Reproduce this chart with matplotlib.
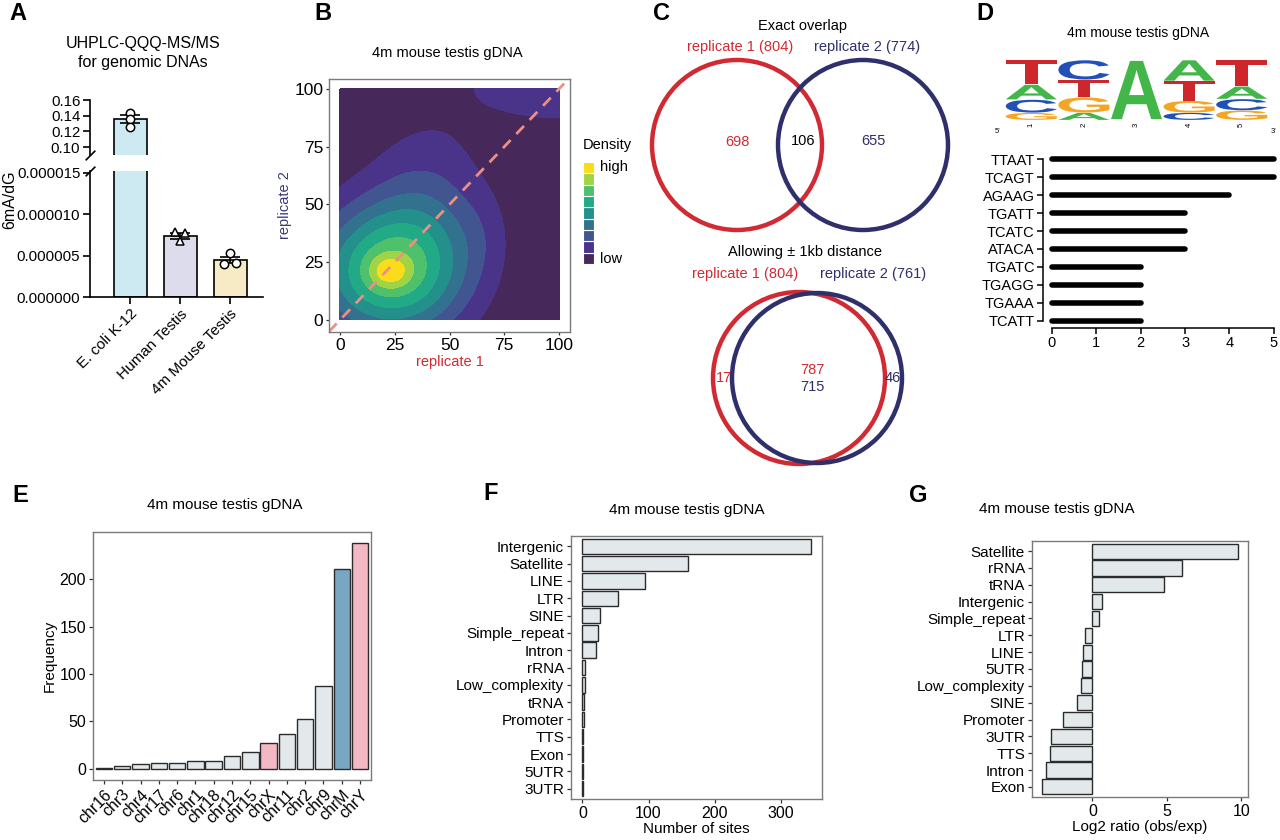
import numpy as np
import matplotlib
matplotlib.use("Agg")
import matplotlib.pyplot as plt
from matplotlib.patches import Circle, PathPatch
from matplotlib.textpath import TextPath
from matplotlib.font_manager import FontProperties
from matplotlib.transforms import Affine2D

plt.rcParams['font.family'] = ['Liberation Sans', 'DejaVu Sans']
plt.rcParams['font.size'] = 10.5

# ---------------- data ----------------
# A: UHPLC-QQQ-MS/MS
a_groups = ["E. coli K-12", "Human Testis", "4m Mouse Testis"]
a_reps = [[0.144, 0.136, 0.126], [7.8e-6, 7.7e-6, 6.7e-6], [5.3e-6, 4.0e-6, 4.1e-6]]
a_jitter = [[0, 0, 0], [-0.1, 0.1, 0.0], [0.0, -0.12, 0.12]]
a_markers = ["o", "^", "o"]
a_colors = ["#cde9f2", "#dddcec", "#f6ebc4"]

# B: density anchors (rough KDE of replicate 1 vs replicate 2)
kde_cx = [22.6, 22.6, 40, 66]
kde_cy = [21, 21, 52, 38]
kde_sx = [24, 6, 20, 9]
kde_sy = [20, 4.5, 26, 14]
kde_w = [1.0, 0.3, 0.26, 0.07]
corner_blob = (100, 104, 30, 14, 0.22)
dens_colors = ["#46295a", "#4a3489", "#415590", "#33728f", "#23908c",
               "#22a985", "#4fc06b", "#a0d444", "#fbdc1b"]

# C: Venn counts
c_top_counts = [698, 106, 655]
c_top_totals = [804, 774]
c_bot_counts = [17, 787, 715, 46]
c_bot_totals = [804, 761]

# D: motif logo + top 5-mers
logo_A = [0.25, 0.12, 1.00, 0.35, 0.21]
logo_C = [0.22, 0.33, 0.00, 0.12, 0.19]
logo_G = [0.12, 0.26, 0.00, 0.20, 0.16]
logo_T = [0.41, 0.29, 0.00, 0.33, 0.44]
kmers = ["TTAAT", "TCAGT", "AGAAG", "TGATT", "TCATC",
         "ATACA", "TGATC", "TGAGG", "TGAAA", "TCATT"]
kmer_counts = [5, 5, 4, 3, 3, 3, 2, 2, 2, 2]

# E: chromosomes
chroms = ["chr16", "chr3", "chr4", "chr17", "chr6", "chr1", "chr18", "chr12",
          "chr15", "chrX", "chr11", "chr2", "chr9", "chrM", "chrY"]
chrom_freq = [1, 3, 5, 6, 6, 8, 8, 13, 18, 27, 37, 52, 87, 211, 238]

# F: annotation counts
f_cats = ["Intergenic", "Satellite", "LINE", "LTR", "SINE", "Simple_repeat",
          "Intron", "rRNA", "Low_complexity", "tRNA", "Promoter", "TTS",
          "Exon", "5UTR", "3UTR"]
f_sites = [345, 160, 95, 54, 26, 24, 20, 4, 4, 2, 2, 1, 0.6, 0.6, 0.6]

# G: log2 enrichment
g_cats = ["Satellite", "rRNA", "tRNA", "Intergenic", "Simple_repeat", "LTR",
          "LINE", "5UTR", "Low_complexity", "SINE", "Promoter", "3UTR",
          "TTS", "Intron", "Exon"]
g_log2 = [9.82, 6.05, 4.78, 0.65, 0.47, -0.49, -0.65, -0.72, -0.76, -1.05,
          -2.0, -2.78, -2.87, -3.14, -3.39]

W, H = 1280, 840
RED = "#d12a33"
NAVY = "#2e2f6b"
BARGREY = "#e3e8eb"


def box(l, t, r, b):
    return [l / W, 1 - b / H, (r - l) / W, (b - t) / H]


def ftext(x, y, s, **kw):
    fig.text(x / W, 1 - y / H, s, **kw)


def gg_frame(ax, size=11):
    for s in ax.spines.values():
        s.set_color("#7a7a7a")
        s.set_linewidth(1.0)
    ax.tick_params(colors="#333333", labelcolor="black", length=3, width=0.9,
                   labelsize=size, pad=2)


fig = plt.figure(figsize=(12.8, 8.4), dpi=100)

# ---------------- A ----------------
ax_up = fig.add_axes(box(90, 100, 263, 155))
ax_lo = fig.add_axes(box(90, 171, 263, 297))
means = [np.mean(r) for r in a_reps]
sems = [np.std(r, ddof=1) / np.sqrt(len(r)) for r in a_reps]
for ax in (ax_up, ax_lo):
    ax.bar(range(3), means, width=0.66, color=a_colors, edgecolor="black", linewidth=1.2, zorder=1)
    ax.errorbar(range(3), means, yerr=sems, fmt="none", ecolor="black",
                elinewidth=1.2, capsize=7, capthick=1.2, zorder=3)
    for i, reps in enumerate(a_reps):
        ax.plot(np.array(a_jitter[i]) + i, reps, linestyle="none", marker=a_markers[i],
                ms=6, mfc="white", mec="black", mew=1.1, zorder=4)
    ax.set_xlim(-0.8, 2.66)
    for s in ("top", "right"):
        ax.spines[s].set_visible(False)
    ax.spines["left"].set_linewidth(1.2)
    ax.spines["bottom"].set_linewidth(1.2)
    ax.tick_params(length=5, width=1.2, labelsize=10.8, pad=2)
ax_up.set_ylim(0.0898, 0.16)
ax_up.set_yticks([0.10, 0.12, 0.14, 0.16])
ax_up.set_yticklabels(["0.10", "0.12", "0.14", "0.16"])
ax_up.spines["bottom"].set_visible(False)
ax_up.set_xticks([])
ax_lo.set_ylim(0, 1.52e-5)
lo_ticks = [0, 5e-6, 1e-5, 1.5e-5]
ax_lo.set_yticks(lo_ticks)
ax_lo.set_yticklabels([f"{v:.6f}" for v in lo_ticks])
ax_lo.set_xticks(range(3))
ax_lo.set_xticklabels(a_groups, rotation=45, ha="right", rotation_mode="anchor", fontsize=11)
for ax, yy in ((ax_up, 0), (ax_lo, 1)):
    ax.plot([0], [yy], transform=ax.transAxes, marker=[(-1, -1), (1, 1)], ms=7,
            linestyle="none", color="k", mec="k", mew=1.2, clip_on=False)
ftext(10, 200, "6mA/dG", rotation=90, ha="center", va="center", fontsize=11.5)
ftext(143, 53, "UHPLC-QQQ-MS/MS\nfor genomic DNAs", ha="center", va="center",
      fontsize=11.5, linespacing=1.3)

# ---------------- B ----------------
axb = fig.add_axes(box(329, 79, 570, 332))
gx = np.linspace(0, 100, 201)
X, Y = np.meshgrid(gx, gx)
Z = np.zeros_like(X)
for cx, cy, sx, sy, w in zip(kde_cx, kde_cy, kde_sx, kde_sy, kde_w):
    Z += w * np.exp(-((X - cx) ** 2 / (2 * sx ** 2) + (Y - cy) ** 2 / (2 * sy ** 2)))
Z /= Z.max()
bx, by, bsx, bsy, bw = corner_blob
Z += bw * np.exp(-((X - bx) ** 2 / (2 * bsx ** 2) + (Y - by) ** 2 / (2 * bsy ** 2)))
levels = np.linspace(0, 1, 10)
levels[-1] = Z.max() + 0.01
axb.contourf(X, Y, Z, levels=levels, colors=dens_colors)
axb.plot([-5, 105], [-5, 105], linestyle=(0, (4, 3)), color="#ef8f82", lw=2)
axb.set_xlim(-5, 105)
axb.set_ylim(-5.2, 104.3)
axb.set_xticks([0, 25, 50, 75, 100])
axb.set_yticks([0, 25, 50, 75, 100])
gg_frame(axb, 12.5)
axb.tick_params(length=2.5, pad=1.5)
axb.set_xlabel("replicate 1", color=RED, fontsize=10.5, labelpad=2)
axb.set_ylabel("replicate 2", color="#3c3a78", fontsize=10.5, labelpad=2)
ftext(447, 53, "4m mouse testis gDNA", ha="center", va="center", fontsize=10.5)
# density legend
axl = fig.add_axes(box(583, 162, 594, 264))
for i, c in enumerate(dens_colors):
    axl.bar(0, 1, bottom=i, width=1, color=c, edgecolor="white", linewidth=0.8)
axl.set_xlim(-0.5, 0.5)
axl.set_ylim(0, 9)
axl.axis("off")
ftext(583, 145, "Density", ha="left", va="center", fontsize=10.5)
ftext(600, 167, "high", ha="left", va="center", fontsize=10.5)
ftext(600, 259, "low", ha="left", va="center", fontsize=10.5)

# ---------------- C ----------------
axc = fig.add_axes(box(640, 0, 960, 480))
axc.set_xlim(640, 960)
axc.set_ylim(480, 0)
axc.set_aspect("equal")
axc.axis("off")
axc.add_patch(Circle((737, 145), 85, fill=False, ec=RED, lw=3.2))
axc.add_patch(Circle((863, 145), 85, fill=False, ec=NAVY, lw=3.2))
axc.add_patch(Circle((799, 378), 86, fill=False, ec=RED, lw=3.2))
axc.add_patch(Circle((817, 378), 85, fill=False, ec=NAVY, lw=3.2))
axc.text(802, 26, "Exact overlap", ha="center", va="center", fontsize=10.5)
axc.text(740, 47, f"replicate 1 ({c_top_totals[0]})", color=RED, ha="center", va="center", fontsize=10.5)
axc.text(867, 47, f"replicate 2 ({c_top_totals[1]})", color=NAVY, ha="center", va="center", fontsize=10.5)
axc.text(737, 142, str(c_top_counts[0]), color=RED, ha="center", va="center", fontsize=10.5)
axc.text(803, 141, str(c_top_counts[1]), color="black", ha="center", va="center", fontsize=10.5)
axc.text(873, 141, str(c_top_counts[2]), color=NAVY, ha="center", va="center", fontsize=10.5)
axc.text(805, 252, "Allowing \u00b1 1kb distance", ha="center", va="center", fontsize=10.5)
axc.text(745, 274, f"replicate 1 ({c_bot_totals[0]})", color=RED, ha="center", va="center", fontsize=10.5)
axc.text(873, 274, f"replicate 2 ({c_bot_totals[1]})", color=NAVY, ha="center", va="center", fontsize=10.5)
axc.text(724, 378, str(c_bot_counts[0]), color=RED, ha="center", va="center", fontsize=10.5)
axc.text(812, 370, str(c_bot_counts[1]), color=RED, ha="center", va="center", fontsize=10.5)
axc.text(812, 387, str(c_bot_counts[2]), color=NAVY, ha="center", va="center", fontsize=10.5)
axc.text(893, 378, str(c_bot_counts[3]), color=NAVY, ha="center", va="center", fontsize=10.5)

# ---------------- D ----------------
ftext(1138, 33, "4m mouse testis gDNA", ha="center", va="center", fontsize=10)
axg = fig.add_axes(box(1005, 60, 1268, 120))
fp = FontProperties(family="Liberation Sans", weight="bold")
base_cols = {"A": "#43b64a", "C": "#2150b8", "G": "#f4a524", "T": "#cf262c"}
logo = {"A": logo_A, "C": logo_C, "G": logo_G, "T": logo_T}
for pos in range(5):
    stack = sorted(((logo[b][pos], b) for b in "ACGT"), key=lambda t: t[0])
    y0 = 0.0
    for h, b in stack:
        if h <= 0:
            continue
        tp = TextPath((0, 0), b, size=1, prop=fp)
        bb = tp.get_extents()
        tr = (Affine2D().translate(-bb.x0, -bb.y0)
              .scale(0.97 / bb.width, h * 0.97 / bb.height)
              .translate(pos + 0.015, y0 + h * 0.015))
        axg.add_patch(PathPatch(tr.transform_path(tp), fc=base_cols[b], ec="none"))
        y0 += h
axg.set_xlim(0, 5)
axg.set_ylim(0, 1)
axg.set_xticks(np.arange(5) + 0.5)
axg.set_xticklabels(["1", "2", "3", "4", "5"], rotation=90, fontsize=5.5)
axg.tick_params(length=0, pad=2)
axg.set_yticks([])
for s in axg.spines.values():
    s.set_visible(False)
axg.text(-0.14, -0.13, "5'", fontsize=5.5, ha="center", va="top")
axg.text(5.1, -0.13, "3'", fontsize=5.5, ha="center", va="top")

axd = fig.add_axes(box(1043, 152, 1277, 328))
yk = np.arange(len(kmers))
lc = axd.hlines(yk, 0, kmer_counts, color="black", lw=4)
lc.set_capstyle("round")
axd.set_xlim(-0.2, 5.07)
axd.set_ylim(len(kmers) - 1 + 0.39, -0.39)
axd.set_yticks(yk)
axd.set_yticklabels(kmers)
axd.set_xticks(range(6))
axd.tick_params(length=4, width=1.1, labelsize=10.5, pad=2)
for s in ("top", "right"):
    axd.spines[s].set_visible(False)
axd.spines["left"].set_bounds(0, len(kmers) - 1)
axd.spines["bottom"].set_bounds(0, 5)
axd.spines["left"].set_linewidth(1.1)
axd.spines["bottom"].set_linewidth(1.1)

# ---------------- E ----------------
axe = fig.add_axes(box(93, 532, 371, 780))
e_cols = []
for c in chroms:
    if c in ("chrX", "chrY"):
        e_cols.append("#f4b7c4")
    elif c == "chrM":
        e_cols.append("#79a7c3")
    else:
        e_cols.append(BARGREY)
xe = np.arange(1, len(chroms) + 1)
axe.bar(xe, chrom_freq, width=0.9, color=e_cols, edgecolor="#2b2b2b", linewidth=1.0)
axe.set_xlim(0.4, len(chroms) + 0.6)
axe.set_ylim(-11.9, 249.9)
axe.set_yticks([0, 50, 100, 150, 200])
axe.set_xticks(xe)
gg_frame(axe, 11.5)
axe.set_xticklabels(chroms, rotation=45, ha="right", rotation_mode="anchor", fontsize=11.5)
axe.set_ylabel("Frequency", fontsize=11, labelpad=2)
ftext(225, 505, "4m mouse testis gDNA", ha="center", va="center", fontsize=11)

# ---------------- F ----------------
axf = fig.add_axes(box(571, 536, 822, 799))
yf = np.arange(len(f_cats))
axf.barh(yf, f_sites, height=0.9, color=BARGREY, edgecolor="#2b2b2b", linewidth=1.0)
axf.set_xlim(-17.25, 362.25)
axf.set_ylim(len(f_cats) - 0.4, -0.6)
axf.set_yticks(yf)
axf.set_yticklabels(f_cats)
axf.set_xticks([0, 100, 200, 300])
gg_frame(axf, 11)
axf.tick_params(axis="x", labelsize=11.5)
axf.set_xlabel("Number of sites", fontsize=11, labelpad=1)
ftext(687, 510, "4m mouse testis gDNA", ha="center", va="center", fontsize=11)

# ---------------- G ----------------
axgg = fig.add_axes(box(1032, 541, 1248, 797))
yg = np.arange(len(g_cats))
axgg.barh(yg, g_log2, height=0.9, color=BARGREY, edgecolor="#2b2b2b", linewidth=1.0)
axgg.set_xlim(-4.06, 10.46)
axgg.set_ylim(len(g_cats) - 0.4, -0.6)
axgg.set_yticks(yg)
axgg.set_yticklabels(g_cats)
axgg.set_xticks([0, 5, 10])
gg_frame(axgg, 11)
axgg.tick_params(axis="x", labelsize=11.5)
axgg.set_xlabel("Log2 ratio (obs/exp)", fontsize=11, labelpad=1)
ftext(1057, 509, "4m mouse testis gDNA", ha="center", va="center", fontsize=11)

# ---------------- panel letters ----------------
for letter, (px, py) in zip("ABCDEFG", [(18, 14), (323, 13), (662, 13), (985, 13),
                                       (20, 495), (491, 494), (918, 495)]):
    ftext(px, py, letter, ha="center", va="center", fontsize=17, fontweight="bold")

fig.savefig("out.png", dpi=100)
